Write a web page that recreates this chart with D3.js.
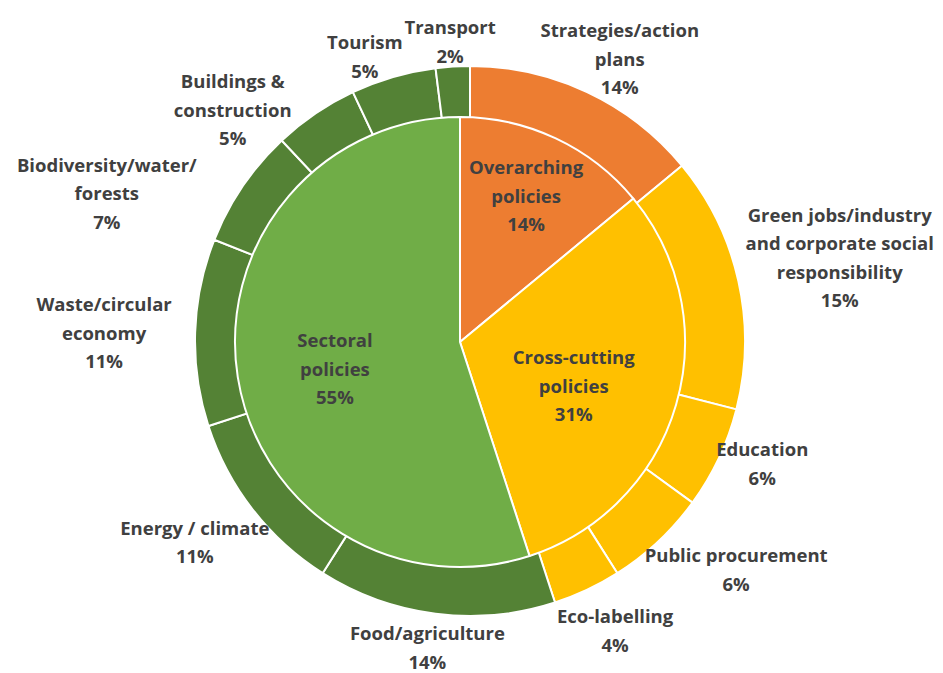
<!DOCTYPE html>
<html>
<head>
<meta charset="utf-8">
<script src="https://cdn.jsdelivr.net/npm/d3@7"></script>
<style>
  html, body { margin: 0; padding: 0; background: #fff; }
  svg { display: block; }
  text { font-family: "Open Sans", Lato, sans-serif; font-weight: 700; fill: #404040; }
</style>
</head>
<body>
<svg id="chart" width="943" height="673"></svg>
<script>
// Policy groups (inner pie), shares in percent
const groups = ["Overarching\npolicies", "Cross-cutting\npolicies", "Sectoral\npolicies"];
const groupShares = [14, 31, 55];

// Policy topics (outer ring), shares in percent, clockwise from 12 o'clock
const topics = [
  "Strategies/action\nplans",
  "Green jobs/industry\nand corporate social\nresponsibility",
  "Education",
  "Public procurement",
  "Eco-labelling",
  "Food/agriculture",
  "Energy / climate",
  "Waste/circular\neconomy",
  "Biodiversity/water/\nforests",
  "Buildings &\nconstruction",
  "Tourism",
  "Transport"
];
const topicShares = [14, 15, 6, 6, 4, 14, 11, 11, 7, 5, 5, 2];
// index of the group each topic belongs to
const topicGroup = [0, 1, 1, 1, 1, 2, 2, 2, 2, 2, 2, 2];

// Styling
const groupColors = ["#ED7D31", "#FFC000", "#70AD47"];
const ringColors  = ["#ED7D31", "#FFC000", "#548235"];

// Label placement: distance from the centre and angular nudge (degrees) from the slice mid-angle
const topicLabelDist  = [319, 379, 317, 351, 324, 310, 341, 366, 392, 331, 303, 300];
const topicLabelShift = [2.8, -0.1, -2.4, -6.1, -1.4, 0.7, 1.6, -0.6, -12.1, -11.6, -4.1, -0.2];
const groupLabelDist  = [160, 122, 128];
const groupLabelShift = [-0.8, 5, -3.3];

const lineHeight = 28.5;
const fontSize = 18.5;

const svg = d3.select("#chart");

const ringCenter = [470, 341];
const pieCenter = [460, 342];
const ringOuter = 275, ringInner = 200, pieRadius = 225;

const pie = d3.pie().sort(null).value(d => d.value).startAngle(0).endAngle(2 * Math.PI);

const topicData = topics.map((name, i) => ({ name, value: topicShares[i], group: topicGroup[i] }));
const groupData = groups.map((name, i) => ({ name, value: groupShares[i], group: i }));

const ringArcs = pie(topicData);
const groupArcs = pie(groupData);

const ringArc = d3.arc().innerRadius(ringInner).outerRadius(ringOuter);
const pieArc = d3.arc().innerRadius(0).outerRadius(pieRadius);

// Outer ring of topics
const ringG = svg.append("g").attr("transform", `translate(${ringCenter})`);
ringG.selectAll("path")
  .data(ringArcs)
  .join("path")
  .attr("d", ringArc)
  .attr("fill", d => ringColors[d.data.group])
  .attr("stroke", "#fff")
  .attr("stroke-width", 2)
  .attr("stroke-linejoin", "round");

// Inner pie of groups
const pieG = svg.append("g").attr("transform", `translate(${pieCenter})`);
pieG.selectAll("path")
  .data(groupArcs)
  .join("path")
  .attr("d", pieArc)
  .attr("fill", d => groupColors[d.data.group])
  .attr("stroke", "#fff")
  .attr("stroke-width", 2)
  .attr("stroke-linejoin", "round");

// Multi-line label block centred on (x, y)
function drawLabel(parent, x, y, lines) {
  const n = lines.length;
  const t = parent.append("text")
    .attr("text-anchor", "middle")
    .attr("font-size", fontSize);
  lines.forEach((line, k) => {
    t.append("tspan")
      .attr("x", x)
      .attr("y", y + (k - (n - 1) / 2) * lineHeight + fontSize * 0.36)
      .text(line);
  });
}

function polar(center, angle, dist) {
  return [center[0] + dist * Math.sin(angle), center[1] - dist * Math.cos(angle)];
}

const toRad = Math.PI / 180;

ringArcs.forEach((a, i) => {
  const mid = (a.startAngle + a.endAngle) / 2 + topicLabelShift[i] * toRad;
  const [x, y] = polar(ringCenter, mid, topicLabelDist[i]);
  drawLabel(svg, x, y, [...a.data.name.split("\n"), a.data.value + "%"]);
});

groupArcs.forEach((a, i) => {
  const mid = (a.startAngle + a.endAngle) / 2 + groupLabelShift[i] * toRad;
  const [x, y] = polar(pieCenter, mid, groupLabelDist[i]);
  drawLabel(svg, x, y, [...a.data.name.split("\n"), a.data.value + "%"]);
});
</script>
</body>
</html>
